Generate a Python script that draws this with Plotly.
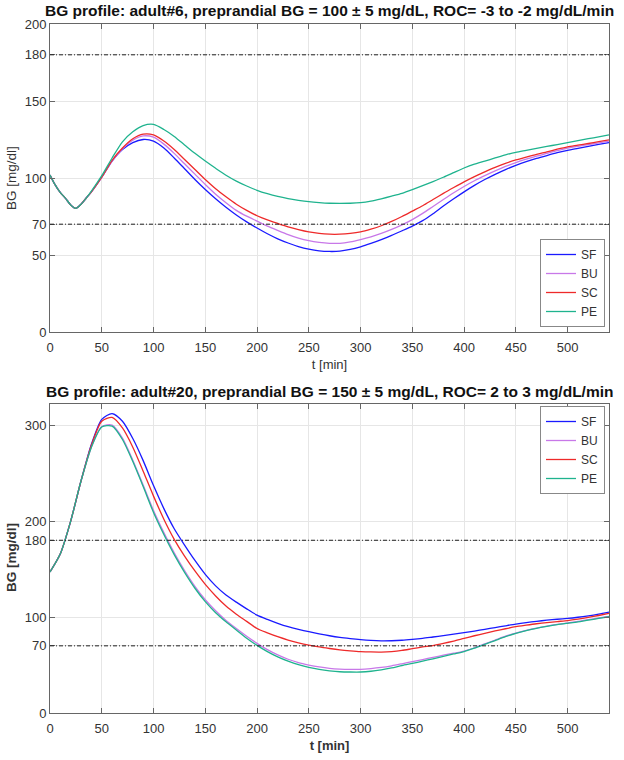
import plotly.graph_objects as go

# ---------------- data: top panel (adult#6) ----------------
t_top = [0, 5, 10, 15, 20, 25, 30, 35, 40, 50, 60, 70, 80, 90, 100, 110, 120, 130, 140, 150, 160, 170, 180, 190,
         200, 210, 220, 230, 240, 250, 260, 270, 280, 290, 300, 310, 320, 330, 340, 350, 360, 370, 380, 390,
         400, 410, 420, 430, 440, 450, 460, 470, 480, 490, 500, 510, 520, 530, 540]
sf_top = [102, 95.5, 90.5, 86.8, 82.5, 80.3, 83, 87, 91, 100.5, 111, 118.5, 123, 125, 124, 119.5, 113, 106, 99, 92.5, 86.5, 81, 76, 71.5,
          67.5, 63.8, 60.5, 57.8, 55.5, 53.8, 52.7, 52.3, 52.5, 53.6, 55.3, 57.5, 60, 62.7, 65.7, 68.8, 72.3, 76.8, 81.8, 86.5,
          91, 95.2, 99, 102.4, 105.5, 108.2, 110.6, 112.7, 114.6, 116.4, 118, 119.3, 120.6, 121.8, 123]
bu_top = [102, 95.5, 90.5, 86.8, 82.5, 80.3, 83, 87, 91, 100.5, 111, 119, 124.5, 127.3, 126.5, 122, 116, 109.2, 102.5, 95.8, 89.5, 84, 79, 75.2,
          72, 68.8, 66, 63.3, 61, 59.3, 58.2, 57.6, 57.6, 58.5, 60, 61.8, 64, 66.6, 69.6, 73, 77, 81.5, 86, 90.4,
          94.5, 98.2, 101.5, 104.6, 107.5, 110, 112.2, 114.2, 116, 117.8, 119.4, 120.6, 121.7, 122.8, 124]
sc_top = [102, 95.5, 90.5, 86.8, 82.5, 80.3, 83, 87, 91, 100.5, 111.5, 119.5, 125.5, 128.5, 128, 124, 118.5, 112, 105.5, 99, 93, 87.8, 83, 79,
          75.5, 72.8, 70.5, 68.3, 66.5, 65, 64, 63.5, 63.5, 64, 65, 66.8, 69, 71.8, 75, 78.5, 82, 86, 90, 93.8,
          97.5, 100.9, 104, 106.9, 109.5, 111.7, 113.6, 115.4, 117, 118.7, 120.2, 121.3, 122.4, 123.6, 124.8]
pe_top = [102, 95.5, 90.5, 86.8, 82.5, 80.3, 83, 87, 91.5, 101.5, 113, 123.5, 130, 134, 134.8, 131.5, 127, 121.5, 116, 111, 106.3, 101.8, 98, 94.8,
          92, 89.8, 88, 86.6, 85.5, 84.6, 84, 83.6, 83.5, 83.6, 84, 85, 86.5, 88.2, 90, 92.4, 95, 97.7, 100.5, 103.5,
          106.5, 109, 111, 113, 115, 116.7, 118, 119.3, 120.5, 121.7, 123, 124.2, 125.5, 126.7, 128]

# ---------------- data: bottom panel (adult#20) ----------------
t_bot = [0, 10, 20, 30, 40, 50, 60, 70, 80, 90, 100, 110, 120, 130, 140, 150, 160, 170, 180, 190,
         200, 210, 220, 230, 240, 250, 260, 270, 280, 290, 300, 310, 320, 330, 340, 350, 360, 370, 380, 390,
         400, 410, 420, 430, 440, 450, 460, 470, 480, 490, 500, 510, 520, 530, 540]
sf_bot = [147, 166, 200, 242, 280, 306, 312, 304, 286, 263, 237, 213, 192, 175, 159, 144.5, 132.5, 123, 115.5, 108.5,
          102, 97.5, 93.5, 90, 87.2, 84.7, 82.5, 80.5, 78.8, 77.5, 76.4, 75.6, 75.2, 75.3, 75.8, 76.7, 77.8, 79.2, 80.6, 82.1,
          83.7, 85.4, 87.2, 89, 90.9, 92.7, 94.2, 95.5, 96.7, 97.7, 98.6, 99.8, 101.3, 103.1, 105.2]
bu_bot = [147, 166, 200, 242, 277, 298.5, 300, 286.5, 263.5, 237.5, 211, 188, 167, 148.5, 132, 118, 106.5, 96.5, 88, 80,
          72.6, 66, 60.5, 56, 52.5, 50, 48, 46.5, 45.7, 45.4, 45.5, 46.3, 47.5, 49.2, 51.3, 53.5, 55.7, 58, 60.2, 62.3,
          64.5, 68, 72, 76, 80, 83.3, 86, 88.4, 90.5, 92.3, 93.8, 95.4, 97.3, 99, 100.8]
sc_bot = [147, 166, 200, 242, 279, 304, 308, 297, 277, 252, 226, 202, 181, 163.5, 148, 134, 122, 111.5, 103, 95.5,
          88, 83.5, 79.5, 76, 73.2, 70.8, 68.8, 67.2, 65.8, 64.8, 64, 63.6, 63.5, 64, 65.2, 67, 68.8, 70.3, 72.5, 75,
          77.8, 80.5, 83, 85.5, 87.8, 89.9, 91.5, 93, 94.2, 95.3, 96.3, 97.8, 99.6, 101.6, 103.8]
pe_bot = [147, 166, 200, 242, 277, 298, 299, 285, 262, 236, 209, 186, 165, 146.5, 130, 116, 104.5, 95, 86.5, 78,
          70.5, 64, 58.5, 54, 50.3, 47.6, 45.5, 44, 43, 42.7, 42.7, 43.5, 45, 47, 49.5, 51.7, 54, 56.5, 59, 61.5,
          64, 67.5, 71.5, 75.5, 79.5, 83, 85.8, 88.2, 90.2, 92, 93.5, 95, 96.8, 98.5, 100.3]

names = ["SF", "BU", "SC", "PE"]
colors = ["#1a1aff", "#c878e8", "#ee2a2a", "#1fb38e"]
x_ticks = [0, 50, 100, 150, 200, 250, 300, 350, 400, 450, 500]
y_ticks_top = [0, 50, 70, 100, 150, 180, 200]
y_ticks_bot = [0, 70, 100, 180, 200, 300]
thresholds = [70, 180]

title_top = "BG profile: adult#6, preprandial BG = 100 \u00b1 5 mg/dL, ROC= -3 to -2 mg/dL/min"
title_bot = "BG profile: adult#20, preprandial BG = 150 \u00b1 5 mg/dL, ROC= 2 to 3 mg/dL/min"

FONT = "Liberation Sans, Arial, Helvetica, sans-serif"
TXT = "#333333"
AX = "#666666"
GRID = "#e6e6e6"

fig = go.Figure()

for n, c, ys in zip(names, colors, [sf_top, bu_top, sc_top, pe_top]):
    fig.add_trace(go.Scatter(x=t_top, y=ys, name=n, mode="lines",
                             line=dict(color=c, width=1.3, shape="spline", smoothing=0.7),
                             xaxis="x", yaxis="y", legend="legend"))
for n, c, ys in zip(names, colors, [sf_bot, bu_bot, sc_bot, pe_bot]):
    fig.add_trace(go.Scatter(x=t_bot, y=ys, name=n, mode="lines",
                             line=dict(color=c, width=1.3, shape="spline", smoothing=0.7),
                             xaxis="x2", yaxis="y2", legend="legend2"))

for xr, yr in [("x", "y"), ("x2", "y2")]:
    for th in thresholds:
        fig.add_shape(type="line", xref=xr, yref=yr, x0=0, x1=540, y0=th, y1=th,
                      line=dict(color="#222222", width=1, dash="4px,2px,1px,2px"))

axis_common = dict(showgrid=True, gridcolor=GRID, gridwidth=1, zeroline=False,
                   showline=True, linecolor=AX, linewidth=1, mirror="ticks",
                   ticks="inside", ticklen=5, tickcolor=AX, automargin=False,
                   tickfont=dict(family=FONT, size=13, color=TXT))

H_PLOT = 760 - 24 - 47
W_PLOT = 624 - 50 - 15
top_lo = (713 - 332) / H_PLOT
bot_hi = (713 - 404) / H_PLOT


def py(px):
    return (713 - px) / H_PLOT


def pxx(px):
    return (px - 50) / W_PLOT


legend_style = dict(bgcolor="white", bordercolor="#888888", borderwidth=1,
                    font=dict(family=FONT, size=12, color=TXT), itemwidth=30, tracegroupgap=0)

fig.update_layout(
    width=624, height=760,
    margin=dict(l=50, r=15, t=24, b=47),
    paper_bgcolor="white", plot_bgcolor="white",
    font=dict(family=FONT, color=TXT),
    xaxis=dict(domain=[0, 1], anchor="y", range=[0, 540], tickvals=x_ticks,
               title=dict(text="t [min]", font=dict(family=FONT, size=13, color=TXT), standoff=6),
               ticklabelstandoff=3, **axis_common),
    yaxis=dict(domain=[top_lo, 1], anchor="x", range=[0, 200], tickvals=y_ticks_top, **axis_common),
    xaxis2=dict(domain=[0, 1], anchor="y2", range=[0, 540], tickvals=x_ticks,
                title=dict(text="<b>t [min]</b>", font=dict(family=FONT, size=13, color=TXT), standoff=6),
                ticklabelstandoff=3, **axis_common),
    yaxis2=dict(domain=[0, bot_hi], anchor="x2", range=[0, 322], tickvals=y_ticks_bot, **axis_common),
    legend=dict(x=pxx(605), xanchor="right", y=py(327), yanchor="bottom", **legend_style),
    legend2=dict(x=pxx(605), xanchor="right", y=py(406), yanchor="top", **legend_style),
    annotations=[
        dict(text="<b>" + title_top + "</b>", xref="paper", yref="paper", x=0.5, y=py(10.5),
             xanchor="center", yanchor="middle", showarrow=False,
             font=dict(family=FONT, size=15.5, color="#111111")),
        dict(text="<b>" + title_bot + "</b>", xref="paper", yref="paper", x=0.5, y=py(391),
             xanchor="center", yanchor="middle", showarrow=False,
             font=dict(family=FONT, size=15.5, color="#111111")),
        dict(text="BG [mg/dl]", xref="paper", yref="paper", x=pxx(11), y=py(178),
             xanchor="center", yanchor="middle", textangle=-90, showarrow=False,
             font=dict(family=FONT, size=13.5, color=TXT)),
        dict(text="<b>BG [mg/dl]</b>", xref="paper", yref="paper", x=pxx(11), y=py(558),
             xanchor="center", yanchor="middle", textangle=-90, showarrow=False,
             font=dict(family=FONT, size=13.5, color=TXT)),
    ],
)

fig.write_html("out.html", config={"displayModeBar": False},
               post_script="document.body.style.margin='0';document.body.style.overflow='hidden';")
